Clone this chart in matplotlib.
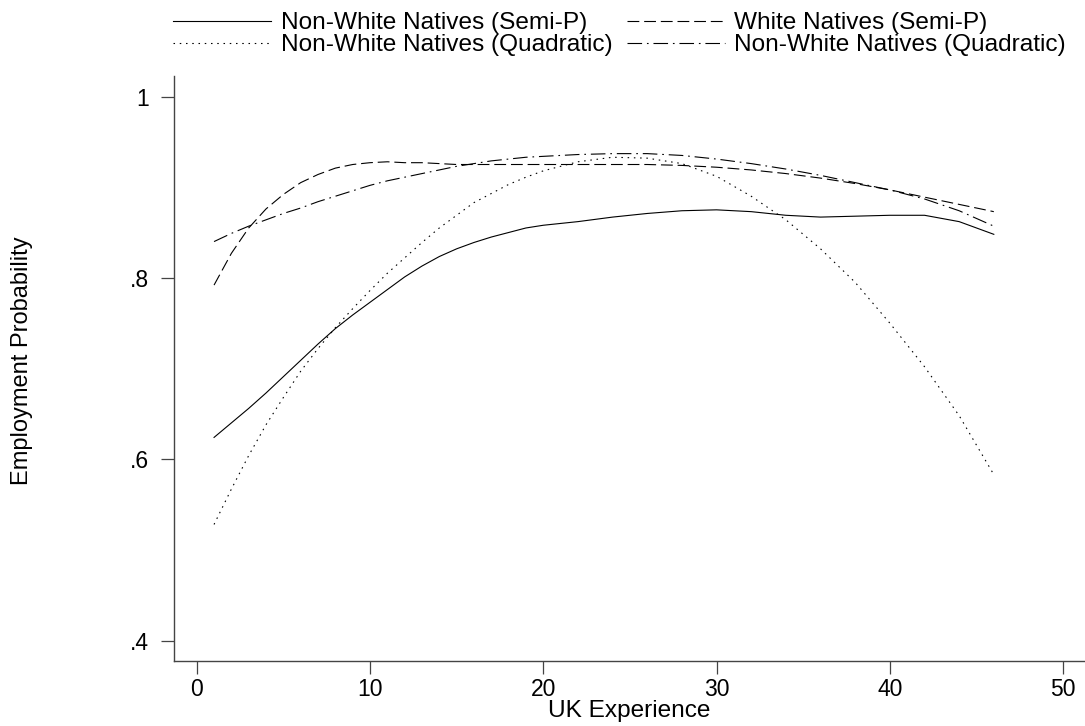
"""Employment probability by UK experience (semi-parametric vs quadratic fits)."""

import matplotlib
matplotlib.use("Agg")
import matplotlib.pyplot as plt
from matplotlib.lines import Line2D

plt.rcParams["font.family"] = ["Liberation Sans", "DejaVu Sans"]
plt.rcParams["lines.scale_dashes"] = False

# values
experience = [1, 2, 3, 4, 5, 6, 7, 8, 9, 10, 11, 12, 13, 14, 15, 16, 17,
              18, 19, 20, 22, 24, 26, 28, 30, 32, 34, 36, 38, 40, 42, 44, 46]

nonwhite_semip = [0.624, 0.640, 0.656, 0.673, 0.691, 0.709, 0.727, 0.744,
                  0.759, 0.773, 0.787, 0.801, 0.813, 0.8235, 0.832, 0.839,
                  0.845, 0.850, 0.855, 0.858, 0.862, 0.867, 0.871, 0.874,
                  0.875, 0.873, 0.869, 0.867, 0.868, 0.869, 0.869, 0.862,
                  0.848]
nonwhite_quad = [0.528, 0.567, 0.604, 0.638, 0.668, 0.697, 0.722, 0.745,
                 0.766, 0.786, 0.805, 0.822, 0.839, 0.855, 0.869, 0.883,
                 0.893, 0.903, 0.911, 0.918, 0.928, 0.933, 0.932, 0.926,
                 0.912, 0.890, 0.864, 0.832, 0.795, 0.750, 0.702, 0.648,
                 0.583]
white_semip = [0.792, 0.827, 0.855, 0.876, 0.892, 0.905, 0.914, 0.921,
               0.925, 0.927, 0.928, 0.927, 0.927, 0.926, 0.925, 0.925,
               0.925, 0.925, 0.925, 0.925, 0.925, 0.925, 0.925, 0.924,
               0.922, 0.919, 0.915, 0.910, 0.904, 0.897, 0.889, 0.881,
               0.873]
white_quad = [0.840, 0.849, 0.857, 0.864, 0.871, 0.877, 0.884, 0.890,
              0.896, 0.902, 0.907, 0.911, 0.915, 0.919, 0.923, 0.926,
              0.929, 0.931, 0.933, 0.934, 0.936, 0.937, 0.937, 0.935,
              0.931, 0.926, 0.920, 0.913, 0.905, 0.897, 0.887, 0.874,
              0.857]

labels = ["Non-White Natives (Semi-P)", "White Natives (Semi-P)",
          "Non-White Natives (Quadratic)", "Non-White Natives (Quadratic)"]

xticks = [0, 10, 20, 30, 40, 50]
yticks = [0.4, 0.6, 0.8, 1.0]
yticklabels = [".4", ".6", ".8", "1"]

styles = {
    "solid": "-",
    "dash": (0, (8.5, 3.5)),
    "dot": (0, (1.1, 3.4)),
    "dashdot": (0, (10.5, 3.5, 1.2, 3.5)),
}

fig = plt.figure(figsize=(10.85, 7.26), dpi=100)
ax = fig.add_axes([0.1607, 0.0899, 0.8383, 0.8054])

lw = 0.8
ax.plot(experience, nonwhite_semip, color="black", lw=lw, ls=styles["solid"])
ax.plot(experience, white_semip, color="black", lw=lw, ls=styles["dash"])
ax.plot(experience, nonwhite_quad, color="black", lw=lw, ls=styles["dot"])
ax.plot(experience, white_quad, color="black", lw=lw, ls=styles["dashdot"])

ax.set_xlim(-1.29, 51.2)
ax.set_ylim(0.3777, 1.0226)
ax.set_xticks(xticks)
ax.set_yticks(yticks, yticklabels)

for side in ["top", "right"]:
    ax.spines[side].set_visible(False)
for side in ["left", "bottom"]:
    ax.spines[side].set_color("#444444")
    ax.spines[side].set_linewidth(1.0)
ax.tick_params(axis="both", direction="out", length=9.5, width=0.9,
               color="#444444", labelsize=16.5)
ax.tick_params(axis="y", pad=9)
ax.tick_params(axis="x", pad=3)

ax.set_xlabel("UK Experience", fontsize=17.6, labelpad=-1)
fig.text(22 / 1085, 1 - 361 / 726, "Employment Probability", rotation=90,
         ha="center", va="center", fontsize=17)

# legend: row 1 solid / dashed, row 2 dotted / dash-dot (column-major order)
handles = [
    Line2D([], [], color="black", lw=lw, ls=styles["solid"]),
    Line2D([], [], color="black", lw=lw, ls=styles["dot"]),
    Line2D([], [], color="black", lw=lw, ls=styles["dash"]),
    Line2D([], [], color="black", lw=lw, ls=styles["dashdot"]),
]
leg_labels = [labels[0], labels[2], labels[1], labels[3]]
fig.legend(handles, leg_labels, ncol=2, loc="upper left",
           bbox_to_anchor=(173 / 1085, 1 - 12 / 726), frameon=False,
           fontsize=17.6, handlelength=4.0, handletextpad=0.4,
           columnspacing=0.6, labelspacing=0.0, borderpad=0,
           borderaxespad=0)

fig.savefig("out.png", dpi=100)
